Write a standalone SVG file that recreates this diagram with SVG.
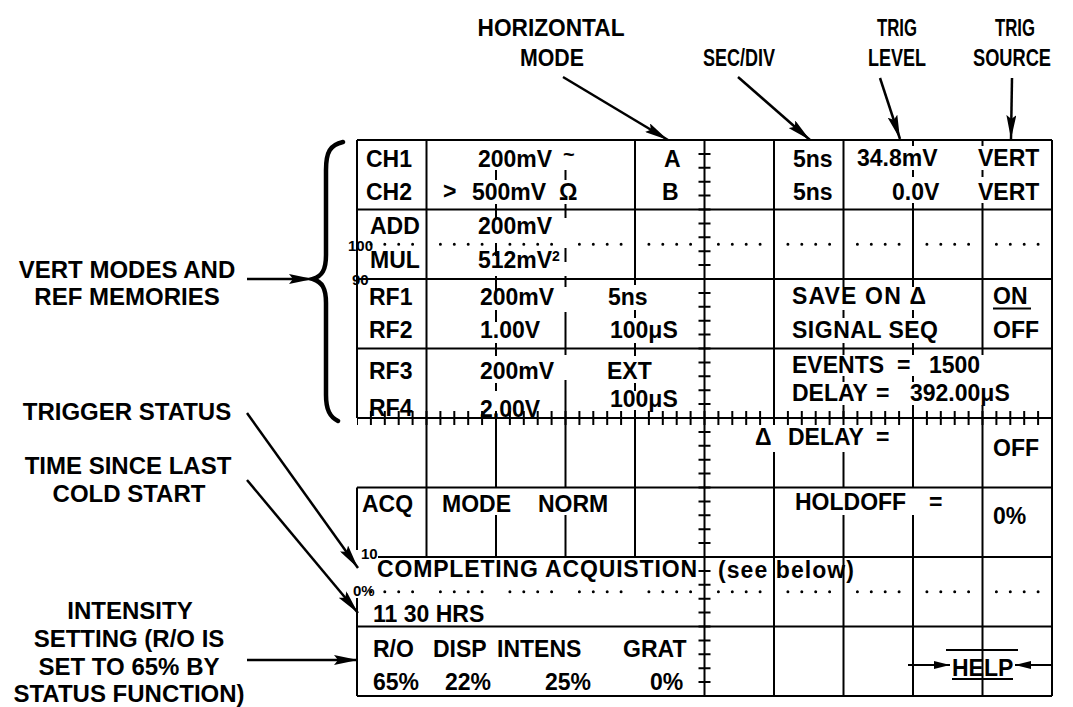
<svg xmlns="http://www.w3.org/2000/svg" width="1073" height="707" viewBox="0 0 1073 707">
<style>
text{font-family:"Liberation Sans",Arial,Helvetica,sans-serif;font-weight:bold;fill:#000}
.g{font-size:23px}
.lab{font-size:24px;text-anchor:middle}
.top{font-size:24px;text-anchor:middle}
.pct{font-size:15px}
.grid{fill:none;stroke:#000;stroke-width:2}
.conn{fill:none;stroke:#000;stroke-width:2.5}
</style>
<defs>
<marker id="ah" markerUnits="userSpaceOnUse" markerWidth="24" markerHeight="10" viewBox="0 0 24 10" refX="24" refY="5" orient="auto">
<path d="M0,0 L24,5 L0,10 L4,5 z" fill="#000"/>
</marker>
<marker id="ahs" markerUnits="userSpaceOnUse" markerWidth="16" markerHeight="8" viewBox="0 0 16 8" refX="16" refY="4" orient="auto">
<path d="M0,0 L16,4 L0,8 z" fill="#000"/>
</marker>
</defs>
<rect width="1073" height="707" fill="#fff"/>

<g id="graticule">
<path class="grid" d="M357 140H1052 M357 209.5H1052 M357 279H1052 M357 348.5H1052 M357 418H1052 M357 487.5H1052 M378 557H1052 M357 626.5H1052 M357 696H1052
M357 140V418 M357 487.5V550 M357 598V696
M426.5 140V557
M496 170V180 M496 204V218 M496 243V256 M496 276V290 M496 310V322 M496 343V356 M496 383V391 M496 418V487.5 M496 515V557
M565.5 170V180 M565.5 204V218 M565.5 248V262 M565.5 276V287 M565.5 312V355 M565.5 380V487.5 M565.5 515V557
M635 140V285 M635 310V318 M635 343V356 M635 383V391 M635 410V557
M704.5 140V696
M774 140V418 M774 452V696
M843.5 140V287 M843.5 310V318 M843.5 343V355 M843.5 376V382 M843.5 405V418 M843.5 452V487.5 M843.5 515V696
M913 140V146 M913 170V177 M913 203V287 M913 310V318 M913 343V355 M913 376V382 M913 405V487.5 M913 515V696
M982.5 140V146 M982.5 170V177 M982.5 203V355 M982.5 405V696
M1052 140V696"/>
<path d="M704.5 140V696" stroke="#000" stroke-width="12" stroke-dasharray="2 11.9" stroke-dashoffset="1" fill="none"/>
<path d="M357 418H1052" stroke="#000" stroke-width="14" stroke-dasharray="2 11.9" stroke-dashoffset="1" fill="none"/>
<path d="M370.9 244.25H1040 M370.9 591.75H1040" stroke="#000" stroke-width="3" stroke-linecap="round" stroke-dasharray="0 13.9 0 13.9 0 13.9 0 27.8" fill="none"/>
<text class="pct" x="348" y="251">100</text>
<text class="pct" x="352" y="285">90</text>
<text class="pct" x="361" y="559">10</text>
<text class="pct" x="353" y="596">0%</text>
</g>

<g id="screen-text">
<text class="g" x="366" y="167">CH1</text>
<text class="g" x="366" y="200">CH2</text>
<text class="g" x="478" y="167">200mV</text>
<text x="563" y="161" style="font-size:20px">~</text>
<text class="g" x="443" y="199">&gt;</text>
<text class="g" x="472" y="200">500mV</text>
<text class="g" x="559" y="200">Ω</text>
<text class="g" x="664" y="167">A</text>
<text class="g" x="662" y="200">B</text>
<text class="g" x="793" y="167">5ns</text>
<text class="g" x="793" y="200">5ns</text>
<text class="g" x="857" y="166">34.8mV</text>
<text class="g" x="892" y="200">0.0V</text>
<text class="g" x="978" y="166">VERT</text>
<text class="g" x="978" y="200">VERT</text>

<text class="g" x="370" y="234">ADD</text>
<text class="g" x="370" y="268">MUL</text>
<text class="g" x="478" y="234">200mV</text>
<text class="g" x="478" y="268">512mV</text>
<text x="552" y="261" style="font-size:14px">2</text>

<text class="g" x="369" y="305">RF1</text>
<text class="g" x="369" y="338">RF2</text>
<text class="g" x="480" y="305">200mV</text>
<text class="g" x="480" y="338">1.00V</text>
<text class="g" x="608" y="305">5ns</text>
<text class="g" x="610" y="338">100μS</text>
<text class="g" x="792" y="304" textLength="134">SAVE ON Δ</text>
<text class="g" x="792" y="338" textLength="146">SIGNAL SEQ</text>
<text class="g" x="993" y="304">ON</text>
<path d="M993 308.5H1031" stroke="#000" stroke-width="2"/>
<text class="g" x="993" y="338">OFF</text>

<text class="g" x="369" y="379">RF3</text>
<text class="g" x="369" y="416">RF4</text>
<text class="g" x="480" y="379">200mV</text>
<text class="g" x="480" y="417">2.00V</text>
<text class="g" x="607" y="379">EXT</text>
<text class="g" x="610" y="407">100μS</text>
<text class="g" x="792" y="373">EVENTS<tspan x="897">=</tspan><tspan x="929">1500</tspan></text>
<text class="g" x="792" y="401">DELAY<tspan x="876">=</tspan><tspan x="910">392.00μS</tspan></text>

<text class="g" x="755" y="445">Δ<tspan x="788">DELAY</tspan><tspan x="876">=</tspan></text>
<text class="g" x="993" y="456">OFF</text>

<text class="g" x="362" y="512">ACQ</text>
<text class="g" x="442" y="512">MODE</text>
<text class="g" x="538" y="512">NORM</text>
<text class="g" x="795" y="510">HOLDOFF<tspan x="929">=</tspan></text>
<text class="g" x="993" y="524">0%</text>

<text class="g" x="377" y="577" textLength="320">COMPLETING ACQUISTION</text>
<text class="g" x="718" y="578" textLength="136">(see below)</text>
<text class="g" x="373" y="622">11 30 HRS</text>

<text class="g" x="373" y="657">R/O</text>
<text class="g" x="433" y="657">DISP</text>
<text class="g" x="497" y="657">INTENS</text>
<text class="g" x="623" y="657">GRAT</text>
<text class="g" x="373" y="690">65%</text>
<text class="g" x="445" y="690">22%</text>
<text class="g" x="545" y="690">25%</text>
<text class="g" x="650" y="690">0%</text>

<text class="g" x="952" y="676">HELP</text>
<path d="M952 679H1013 M946 650H1018" stroke="#000" stroke-width="2"/>
</g>

<g id="label-horizontal-mode">
<text class="top" x="551" y="36" textLength="147" lengthAdjust="spacingAndGlyphs">HORIZONTAL</text>
<text class="top" x="552" y="66" textLength="64" lengthAdjust="spacingAndGlyphs">MODE</text>
</g>
<g id="label-sec-div">
<text class="top" x="739" y="66" textLength="72" lengthAdjust="spacingAndGlyphs">SEC/DIV</text>
</g>
<g id="label-trig-level">
<text class="top" x="897" y="36" textLength="40" lengthAdjust="spacingAndGlyphs">TRIG</text>
<text class="top" x="897" y="66" textLength="58" lengthAdjust="spacingAndGlyphs">LEVEL</text>
</g>
<g id="label-trig-source">
<text class="top" x="1015" y="36" textLength="40" lengthAdjust="spacingAndGlyphs">TRIG</text>
<text class="top" x="1012" y="66" style="font-size:23px" textLength="78" lengthAdjust="spacingAndGlyphs">SOURCE</text>
</g>
<g id="label-vert-modes">
<text class="lab" x="127" y="278">VERT MODES AND</text>
<text class="lab" x="127" y="305">REF MEMORIES</text>
</g>
<g id="label-trigger-status">
<text class="lab" x="127" y="420">TRIGGER STATUS</text>
</g>
<g id="label-time-since">
<text class="lab" x="128" y="474">TIME SINCE LAST</text>
<text class="lab" x="129" y="502">COLD START</text>
</g>
<g id="label-intensity">
<text class="lab" x="130" y="619">INTENSITY</text>
<text class="lab" x="129" y="647">SETTING (R/O IS</text>
<text class="lab" x="129" y="675">SET TO 65% BY</text>
<text class="lab" x="129" y="702">STATUS FUNCTION)</text>
</g>
<g id="brace">
<path d="M343 142 C330 145 326 152 326 170 L326 255 C326 270 322 276 313 279 C322 282 326 288 326 303 L326 395 C326 410 330 417 338 421" fill="none" stroke="#000" stroke-width="4.5" stroke-linecap="round"/>
</g>

<g id="connectors" class="conn">
<path d="M563 77 L668 140" marker-end="url(#ah)"/>
<path d="M738 77 L810 140" marker-end="url(#ah)"/>
<path d="M880 78 L900 139" marker-end="url(#ah)"/>
<path d="M1012 78 L1011 139" marker-end="url(#ah)"/>
<path d="M247 279 L313 279" marker-end="url(#ah)"/>
<path d="M247 413 L358 568" marker-end="url(#ah)"/>
<path d="M247 480 L358 613" marker-end="url(#ah)"/>
<path d="M247 660 L358 660" marker-end="url(#ah)"/>
<path d="M908 665 L950 665" stroke-width="2" marker-end="url(#ahs)"/>
<path d="M1052 665 L1015 665" stroke-width="2" marker-end="url(#ahs)"/>
</g>
</svg>
